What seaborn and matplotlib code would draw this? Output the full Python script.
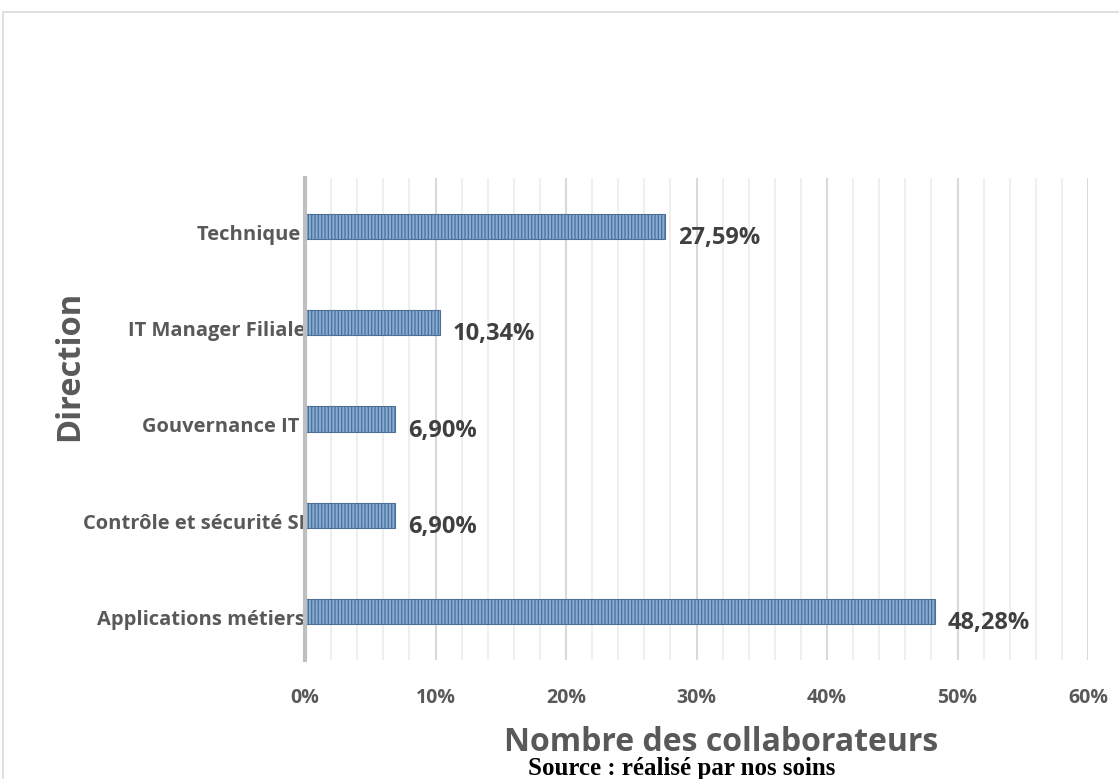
import matplotlib
matplotlib.use("Agg")
import matplotlib.pyplot as plt
import matplotlib.transforms as mtransforms
import seaborn as sns
import pandas as pd
import numpy as np
from matplotlib.ticker import FuncFormatter, MultipleLocator

categories = ["Technique ", "IT Manager Filiale", "Gouvernance IT ",
              "Contrôle et sécurité SI", "Applications métiers"]
values = [27.59, 10.34, 6.90, 6.90, 48.28]
labels = ["27,59%", "10,34%", "6,90%", "6,90%", "48,28%"]

df = pd.DataFrame({"Direction": categories, "Pct": values})

sns.set_theme(style="white")
plt.rcParams['font.family'] = ['Open Sans', 'DejaVu Sans']
plt.rcParams['hatch.linewidth'] = 0.9

fig = plt.figure(figsize=(11.19, 7.79), dpi=100)
ax = fig.add_axes([0.2726, 0.1528, 0.6997, 0.6187])

sns.barplot(data=df, y="Direction", x="Pct", orient="h", ax=ax,
            color="#86acd6", width=0.26, saturation=1, order=categories)
for p in ax.patches:
    p.set_hatch("|||||")
    p.set_edgecolor("#4b6f96")
    p.set_linewidth(0.8)

ax.set_xlim(0, 60)
ax.set_ylim(4.5, -0.5)
ax.xaxis.set_major_locator(MultipleLocator(10))
ax.xaxis.set_minor_locator(MultipleLocator(2))
ax.grid(axis="x", which="minor", color="#ececec", linewidth=1.2)
ax.grid(axis="x", which="major", color="#d9d9d9", linewidth=1.5)
ax.set_axisbelow(True)
for s in ["top", "right", "bottom"]:
    ax.spines[s].set_visible(False)
ax.spines["left"].set_color("#bfbfbf")
ax.spines["left"].set_linewidth(3)
ax.xaxis.set_major_formatter(FuncFormatter(lambda v, p: f"{int(v)}%"))
ax.tick_params(axis="x", length=0, pad=20, labelsize=14, labelcolor="#595959")
ax.tick_params(axis="y", length=0, pad=0, labelsize=14.5, labelcolor="#595959")
for t in ax.get_xticklabels() + ax.get_yticklabels():
    t.set_fontweight("bold")
shift = mtransforms.ScaledTranslation(0, -6 / 100, fig.dpi_scale_trans)
for t in ax.get_yticklabels():
    t.set_transform(t.get_transform() + shift)

for i, (v, lab) in enumerate(zip(values, labels)):
    ax.text(v + 1.0, i + 0.12, lab, ha="left", va="center", fontsize=17,
            fontweight="bold", color="#404040")

ax.set_xlabel("")
ax.set_ylabel("")
fig.text(0.062, 0.53, "Direction", rotation=90, ha="center", va="center",
         fontsize=23.5, fontweight="bold", color="#595959")
fig.text(0.644, 0.047, "Nombre des collaborateurs", ha="center", va="center",
         fontsize=23, fontweight="bold", color="#595959")
fig.text(0.609, 0.014, "Source : réalisé par nos soins", ha="center", va="center",
         fontsize=18, fontweight="bold", color="black",
         family=["Liberation Serif", "DejaVu Serif"])

fig.patches.append(plt.Rectangle((0.003, -0.01), 1.1, 0.995, transform=fig.transFigure,
                                 fill=False, edgecolor="#d9d9d9", linewidth=1.2))

fig.savefig("out.png", dpi=100)
